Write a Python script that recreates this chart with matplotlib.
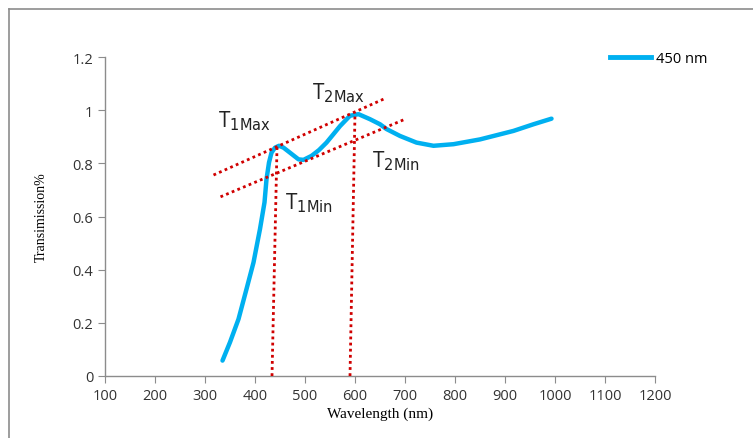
import numpy as np
import matplotlib
matplotlib.use('Agg')
import matplotlib.pyplot as plt
from matplotlib.lines import Line2D

# transmission curve
wavelength = [335, 350, 367, 383, 397, 410, 419, 423, 428, 433, 440, 448, 457, 470,
              487, 497, 513, 528, 543, 557, 570, 590, 607, 630, 650, 663, 690, 723,
              757, 797, 850, 917, 957, 993]
transmission = [0.058, 0.127, 0.214, 0.327, 0.427, 0.553, 0.653, 0.74, 0.803, 0.84,
                0.859, 0.866, 0.859, 0.84, 0.815, 0.813, 0.828, 0.85, 0.878, 0.91,
                0.94, 0.979, 0.985, 0.966, 0.947, 0.929, 0.903, 0.878, 0.866, 0.872,
                0.89, 0.922, 0.947, 0.968]

# envelope guide lines (red dotted)
upper_env_x = [317, 660]
upper_env_y = [0.756, 1.044]
lower_env_x = [331, 700]
lower_env_y = [0.674, 0.966]
vert1_x = [434, 444]
vert1_y = [0.0, 0.86]
vert2_x = [590, 600]
vert2_y = [0.0, 0.99]

labels = [(r'T$_{\rm 1Max}$', 326, 0.94),
          (r'T$_{\rm 2Max}$', 514, 1.045),
          (r'T$_{\rm 1Min}$', 460, 0.63),
          (r'T$_{\rm 2Min}$', 634, 0.79)]

xticks = list(range(100, 1201, 100))
yticks = [0, 0.2, 0.4, 0.6, 0.8, 1, 1.2]
ytick_labels = ['0', '0.2', '0.4', '0.6', '0.8', '1', '1.2']

BLUE = '#00B0F0'
RED = '#D00000'
GREY = '#8C8C8C'

fig = plt.figure(figsize=(7.53, 4.39), dpi=100)
ax = fig.add_axes([105 / 753, 62 / 439, 550 / 753, 319 / 439])

# outer chart frame (left and top edges visible)
fig.add_artist(Line2D([9 / 753, 9 / 753], [0, 1 - 10 / 439], color=GREY, lw=1.2,
                      transform=fig.transFigure))
fig.add_artist(Line2D([9 / 753, 1], [1 - 10 / 439, 1 - 10 / 439], color=GREY, lw=1.2,
                      transform=fig.transFigure))

ax.plot(wavelength, transmission, color=BLUE, lw=3.2, solid_capstyle='round',
        solid_joinstyle='round', zorder=3)

dot = dict(color=RED, lw=2.0, ls=(0, (1, 1.2)), zorder=4)
ax.plot(upper_env_x, upper_env_y, **dot)
ax.plot(lower_env_x, lower_env_y, **dot)
ax.plot(vert1_x, vert1_y, **dot)
ax.plot(vert2_x, vert2_y, **dot)

for txt, x, y in labels:
    ax.text(x, y, txt, fontsize=15, family='Open Sans', color='#222222', zorder=5)

ax.set_xlim(100, 1200)
ax.set_ylim(0, 1.2)
ax.set_xticks(xticks)
ax.set_yticks(yticks)
ax.set_yticklabels(ytick_labels)
ax.tick_params(direction='out', length=5, color=GREY, labelsize=10.5, labelcolor='#333333')
for lab in ax.get_xticklabels() + ax.get_yticklabels():
    lab.set_family('Open Sans')
for s in ['top', 'right']:
    ax.spines[s].set_visible(False)
for s in ['left', 'bottom']:
    ax.spines[s].set_color(GREY)
    ax.spines[s].set_linewidth(1.0)

ax.set_xlabel('Wavelength (nm)', family='Liberation Serif', fontsize=11, labelpad=3)
ax.set_ylabel('Transimission%', family='Liberation Serif', fontsize=10, labelpad=18)

leg = ax.legend([Line2D([0], [0], color=BLUE, lw=3.5)], ['450 nm'],
                loc='upper left', bbox_to_anchor=(0.895, 1.06), frameon=False,
                handlelength=2.8, handletextpad=0.3, prop={'family': 'Open Sans', 'size': 10.5})

fig.savefig('out.png', dpi=100)
